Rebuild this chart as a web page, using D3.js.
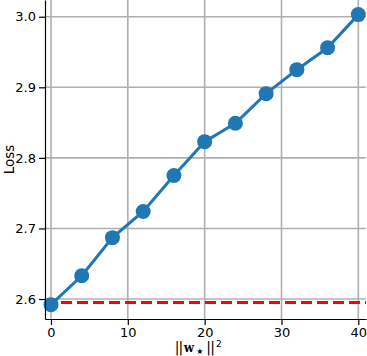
<!DOCTYPE html>
<html>
<head>
<meta charset="utf-8">
<script src="https://cdn.jsdelivr.net/npm/d3@7"></script>
<style>
  body { margin: 0; background: #fff; }
  text { font-family: "DejaVu Sans", sans-serif; }
</style>
</head>
<body>
<svg id="chart" width="367" height="356"></svg>
<script>
// Data
var normValues = [0, 4, 8, 12, 16, 20, 24, 28, 32, 36, 40];
var lossValues = [2.592, 2.633, 2.687, 2.724, 2.775, 2.823, 2.849, 2.891, 2.925, 2.956, 3.003];
var baselineLoss = 2.595;
var xTicks = [0, 10, 20, 30, 40];
var yTicks = [2.6, 2.7, 2.8, 2.9, 3.0];

var svg = d3.select("#chart");

var padding = { top: 0, right: 1, bottom: 37, left: 45 };
var width = 367, height = 356;

// Scales
var xScale = d3.scaleLinear()
    .domain([-0.78, 41.0])
    .range([padding.left, width - padding.right]);

var yScale = d3.scaleLinear()
    .domain([2.5717, 3.0237])
    .range([height - padding.bottom, padding.top]);

var plot = svg.append("g");

// Grid lines
plot.append("g")
    .selectAll("line")
    .data(xTicks)
    .enter()
    .append("line")
        .attr("x1", d => xScale(d))
        .attr("x2", d => xScale(d))
        .attr("y1", yScale.range()[0])
        .attr("y2", yScale.range()[1])
        .attr("stroke", "#b0b0b0")
        .attr("stroke-width", 1.6);

plot.append("g")
    .selectAll("line")
    .data(yTicks)
    .enter()
    .append("line")
        .attr("x1", xScale.range()[0])
        .attr("x2", xScale.range()[1])
        .attr("y1", d => yScale(d))
        .attr("y2", d => yScale(d))
        .attr("stroke", "#b0b0b0")
        .attr("stroke-width", 1.6);

// Baseline (red dashed)
plot.append("line")
    .attr("x1", xScale.range()[0])
    .attr("x2", xScale.range()[1])
    .attr("y1", yScale(baselineLoss))
    .attr("y2", yScale(baselineLoss))
    .attr("stroke", "#ff0000")
    .attr("stroke-width", 3)
    .attr("stroke-dasharray", "11,5");

// Loss curve
var line = d3.line()
    .x((d, i) => xScale(normValues[i]))
    .y(d => yScale(d));

plot.append("path")
    .datum(lossValues)
    .attr("d", line)
    .attr("fill", "none")
    .attr("stroke", "#1f77b4")
    .attr("stroke-width", 3);

plot.selectAll(".point")
    .data(lossValues)
    .enter()
    .append("circle")
        .attr("class", "point")
        .attr("cx", (d, i) => xScale(normValues[i]))
        .attr("cy", d => yScale(d))
        .attr("r", 7.5)
        .attr("fill", "#1f77b4");

// Axes
var xAxis = svg.append("g")
    .attr("transform", `translate(0, ${yScale.range()[0]})`)
    .call(d3.axisBottom(xScale)
        .tickValues(xTicks)
        .tickSize(6)
        .tickSizeOuter(0)
        .tickFormat(d3.format("d")));

var yAxis = svg.append("g")
    .attr("transform", `translate(${xScale.range()[0]}, 0)`)
    .call(d3.axisLeft(yScale)
        .tickValues(yTicks)
        .tickSize(6)
        .tickSizeOuter(0)
        .tickFormat(d3.format(".1f")));

[xAxis, yAxis].forEach(function(axis) {
    axis.select(".domain").attr("stroke", "#000").attr("stroke-width", 1.2);
    axis.selectAll(".tick line").attr("stroke", "#000").attr("stroke-width", 1.2);
    axis.selectAll(".tick text")
        .attr("font-family", "DejaVu Sans, sans-serif")
        .attr("font-size", 13)
        .attr("fill", "#000");
});
yAxis.selectAll(".tick text").attr("x", -9);

// Y label
svg.append("text")
    .attr("transform", "rotate(-90)")
    .attr("x", -yScale.range()[0] / 2)
    .attr("y", 14)
    .attr("text-anchor", "middle")
    .attr("font-size", 13.5)
    .text("Loss");

// X label: ||w*||^2
var xLabel = svg.append("text")
    .attr("x", xScale(20) - 30)
    .attr("y", 352)
    .attr("font-size", 14);
xLabel.append("tspan").text("|");
xLabel.append("tspan").attr("dx", -0.8).text("|");
xLabel.append("tspan")
    .attr("font-family", "DejaVu Serif, serif")
    .attr("font-weight", "bold")
    .attr("font-size", 12)
    .attr("dx", 0.5)
    .text("w");
xLabel.append("tspan").attr("font-size", 8).attr("dx", 2).attr("dy", 2).text("\u2605");
xLabel.append("tspan").attr("dx", 3).attr("dy", -2).text("|");
xLabel.append("tspan").attr("dx", -0.8).text("|");
xLabel.append("tspan").attr("font-size", 9).attr("dx", 1).attr("dy", -5).text("2");
</script>
</body>
</html>
